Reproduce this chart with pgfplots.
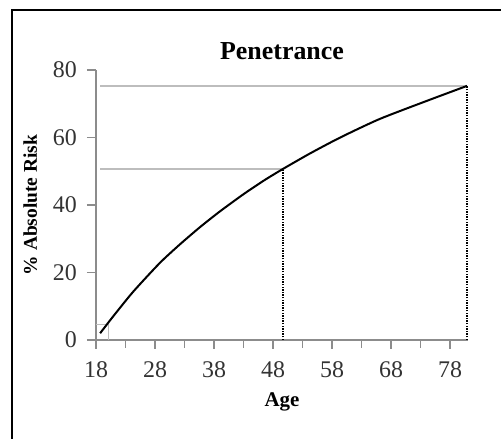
\documentclass[border=0pt]{standalone}
\usepackage{fontspec}
\setmainfont{Liberation Serif}
\usepackage{pgfplots}
\pgfplotsset{compat=1.18}
\definecolor{axgray}{HTML}{8C8C8C}
\definecolor{refgray}{HTML}{BDBDBD}
\begin{document}
\begin{tikzpicture}[x=1bp,y=1bp]
\begin{axis}[
  at={(0,0)}, anchor=south west,
  scale only axis, width=372bp, height=270bp,
  xmin=18, xmax=81.05, ymin=0, ymax=80,
  enlargelimits=false,
  axis lines=left,
  axis line style={-, draw=axgray, line width=1.3bp},
  tick align=outside,
  xtick={18,28,38,48,58,68,78},
  minor x tick num=1,
  ytick={0,20,40,60,80},
  major tick length=9bp, minor tick length=8bp,
  tick style={draw=axgray, line width=1.3bp},
  /pgf/number format/assume math mode=true,
  ticklabel style={font=\fontsize{24}{24}\selectfont, text=black!80},
  yticklabel style={anchor=east, inner sep=0pt, xshift=-10bp},
  xticklabel style={anchor=base, inner sep=0pt, yshift=-28bp},
  title={\textbf{Penetrance}},
  title style={at={(axis description cs:0.5,1)}, anchor=base, yshift=5bp, font=\fontsize{26}{26}\selectfont, inner sep=0pt},
  xlabel={\textbf{Age}},
  xlabel style={at={(axis description cs:0.5,0)}, anchor=base, yshift=-66bp, font=\fontsize{21}{21}\selectfont, inner sep=0pt},
  ylabel={\textbf{\% Absolute Risk}},
  ylabel style={at={(axis description cs:-0.1586,0.5)}, anchor=base, rotate=0, font=\fontsize{19.5}{19.5}\selectfont, inner sep=0pt},
  clip=false,
]
% reference lines
\addplot[refgray, line width=1.3bp] coordinates {(18.7,75.3) (80.9,75.3)};
\addplot[refgray, line width=1.3bp] coordinates {(18.7,50.7) (49.7,50.7)};
\addplot[refgray, line width=1bp] coordinates {(18,4.7) (20.2,4.7) (20.2,0)};
% dotted verticals
\addplot[black, line width=1.4bp, dash pattern=on 1.3bp off 1.3bp] coordinates {(49.7,0) (49.7,50.7)};
\addplot[black, line width=1.4bp, dash pattern=on 1.3bp off 1.3bp] coordinates {(80.9,0) (80.9,75.3)};
% penetrance curve
\addplot[black, line width=2bp, smooth, tension=0.4] coordinates {
 (18.7,2.0) (21.0,7.2) (24.3,14.3) (28.8,22.8) (32.2,28.3) (35.6,33.4) (39.0,38.1)
 (43.0,43.2) (46.5,47.3) (49.7,50.7) (54.3,55.3) (59.4,60.0) (66.1,65.5) (74.6,71.2) (80.9,75.3)
};
\end{axis}
\draw[line width=2bp, black] (-84,-99) -- (-84,330) -- (405,330);
\pgfresetboundingbox
\useasboundingbox (-96,-99) rectangle (405,340);
\end{tikzpicture}
\end{document}
